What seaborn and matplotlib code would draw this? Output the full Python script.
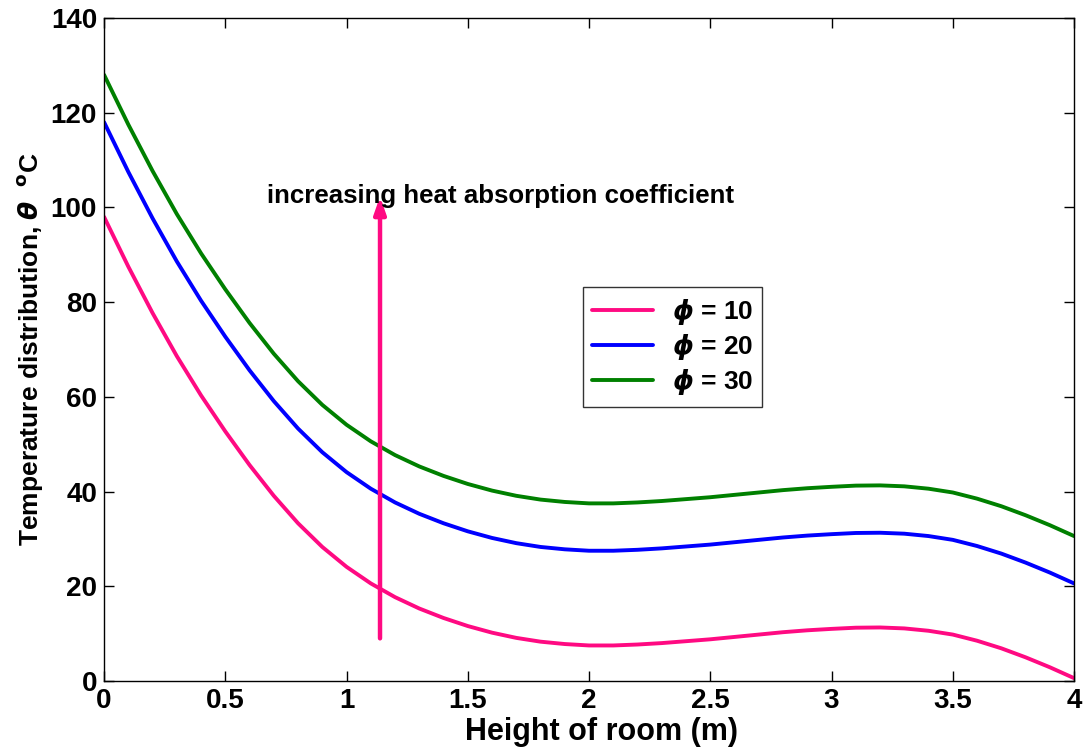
import numpy as np
import pandas as pd
import matplotlib
matplotlib.use('Agg')
import matplotlib.pyplot as plt
import seaborn as sns

sns.set_style('ticks')
plt.rcParams['font.family'] = ['Liberation Sans', 'DejaVu Sans']
plt.rcParams['font.weight'] = 'bold'
plt.rcParams['mathtext.fontset'] = 'dejavusans'
for key in ['text.color', 'axes.labelcolor', 'xtick.color', 'ytick.color', 'axes.edgecolor']:
    plt.rcParams[key] = 'black'

# height of room (m)
height = [0.0, 0.1, 0.2, 0.3, 0.4, 0.5, 0.6, 0.7, 0.8, 0.9,
          1.0, 1.1, 1.2, 1.3, 1.4, 1.5, 1.6, 1.7, 1.8, 1.9,
          2.0, 2.1, 2.2, 2.3, 2.4, 2.5, 2.6, 2.7, 2.8, 2.9,
          3.0, 3.1, 3.2, 3.3, 3.4, 3.5, 3.6, 3.7, 3.8, 3.9, 4.0]

# temperature distribution (deg C)
theta_10 = [98.0, 87.5, 77.7, 68.6, 60.3, 52.7, 45.6, 39.1, 33.3, 28.3,
            24.1, 20.6, 17.7, 15.3, 13.3, 11.6, 10.2, 9.1, 8.3, 7.8,
            7.5, 7.5, 7.7, 8.0, 8.4, 8.8, 9.3, 9.8, 10.3, 10.7,
            11.0, 11.25, 11.3, 11.1, 10.6, 9.8, 8.5, 6.9, 5.0, 2.9, 0.6]
theta_20 = [118.0, 107.5, 97.7, 88.6, 80.3, 72.7, 65.6, 59.1, 53.3, 48.3,
            44.1, 40.6, 37.7, 35.3, 33.3, 31.6, 30.2, 29.1, 28.3, 27.8,
            27.5, 27.5, 27.7, 28.0, 28.4, 28.8, 29.3, 29.8, 30.3, 30.7,
            31.0, 31.25, 31.3, 31.1, 30.6, 29.8, 28.5, 26.9, 25.0, 22.9, 20.6]
theta_30 = [128.0, 117.5, 107.7, 98.6, 90.3, 82.7, 75.6, 69.1, 63.3, 58.3,
            54.1, 50.6, 47.7, 45.3, 43.3, 41.6, 40.2, 39.1, 38.3, 37.8,
            37.5, 37.5, 37.7, 38.0, 38.4, 38.8, 39.3, 39.8, 40.3, 40.7,
            41.0, 41.25, 41.3, 41.1, 40.6, 39.8, 38.5, 36.9, 35.0, 32.9, 30.6]

labels = [r'$\phi$ = 10', r'$\phi$ = 20', r'$\phi$ = 30']
colors = ['#ff0a82', '#0000ff', '#008000']

df = pd.DataFrame({
    'height': height * 3,
    'theta': theta_10 + theta_20 + theta_30,
    'phi': [labels[0]] * len(height) + [labels[1]] * len(height) + [labels[2]] * len(height),
})

fig = plt.figure(figsize=(10.85, 7.48), dpi=100)
ax = fig.add_axes([0.0959, 0.0896, 0.894, 0.8864])

sns.lineplot(data=df, x='height', y='theta', hue='phi', palette=colors,
             linewidth=2.8, ax=ax)

ax.set_xlim(0, 4)
ax.set_ylim(0, 140)
ax.set_xticks(np.arange(0, 4.01, 0.5))
ax.set_xticklabels(['0', '0.5', '1', '1.5', '2', '2.5', '3', '3.5', '4'])
ax.set_yticks(np.arange(0, 141, 20))
ax.tick_params(direction='in', length=7, width=1, top=True, right=True,
               labelsize=20, pad=5)
for lab in ax.get_xticklabels() + ax.get_yticklabels():
    lab.set_fontweight('bold')
for sp in ax.spines.values():
    sp.set_linewidth(1)

ax.set_xlabel('Height of room (m)', fontsize=22, fontweight='bold', labelpad=2)
ax.xaxis.set_label_coords(0.513, -0.055)
ax.set_ylabel(r'Temperature distribution, $\theta$  $^{\mathbf{o}}$C',
              fontsize=19, fontweight='bold', labelpad=4)

# arrow and note
ax.annotate('', xy=(1.138, 102.3), xytext=(1.138, 9.0),
            arrowprops=dict(arrowstyle='-|>,head_length=1.0,head_width=0.35',
                            color='#ff0a82', lw=3.2, shrinkA=0, shrinkB=0))
ax.text(0.672, 102.4, 'increasing heat absorption coefficient',
        fontsize=18.6, fontweight='bold', ha='left', va='center')

leg = ax.legend(loc='upper left', bbox_to_anchor=(0.494, 0.594), title=None,
                fontsize=19, frameon=True, fancybox=False, handlelength=2.3,
                borderpad=0.35, labelspacing=0.15, handletextpad=0.7,
                borderaxespad=0)
leg.get_frame().set_edgecolor('black')
leg.get_frame().set_linewidth(1)
for t in leg.get_texts():
    t.set_fontweight('bold')
for l in leg.get_lines():
    l.set_linewidth(2.8)

fig.savefig('out.png', dpi=100)
